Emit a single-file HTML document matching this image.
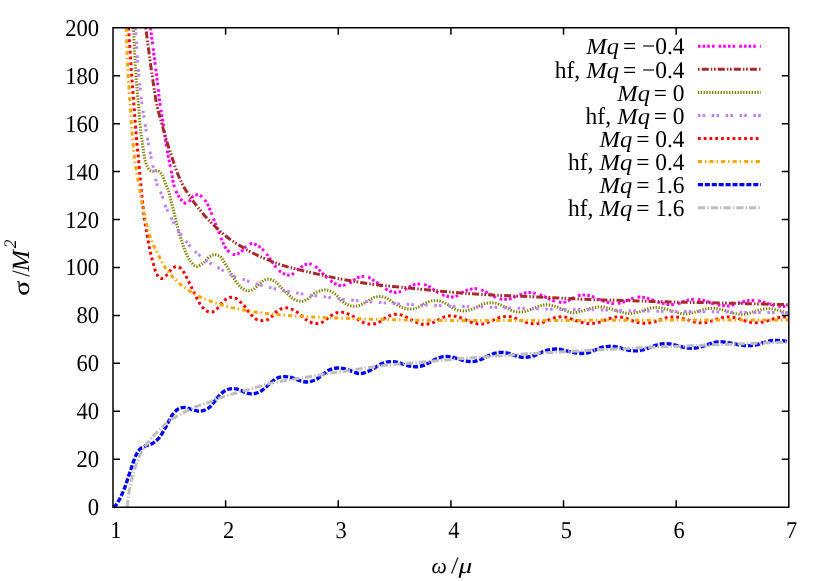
<!DOCTYPE html>
<html><head><meta charset="utf-8"><title>plot</title>
<style>html,body{margin:0;padding:0;background:#fff;overflow:hidden}svg{display:block;will-change:transform}.t,.t text,.t tspan{font-family:"Liberation Serif",serif;text-rendering:geometricPrecision}</style>
</head><body>
<svg width="830" height="581" viewBox="0 0 830 581">
<rect width="830" height="581" fill="#fff"/>
<defs><clipPath id="c"><rect x="111.00" y="27.05" width="679.00" height="482.15"/></clipPath></defs>
<g clip-path="url(#c)" fill="none" stroke-linecap="butt" stroke-linejoin="round">
<path d="M150.5 27.7C152.5 43.7 154.6 59.6 156.6 75.6C157.9 85.9 158.9 96.2 160.4 106.5C161.3 112.2 162.3 117.8 163.2 123.5C164.1 129.4 164.8 135.2 165.7 141.1C166.4 145.9 167.2 150.8 168.1 155.6C169.1 160.9 170.3 166.2 171.4 171.5C172.4 176.5 172.7 181.7 174.3 186.5C175.1 188.9 176.0 191.4 177.2 193.7C178.6 196.3 180.1 199.0 182.3 200.9C183.7 202.1 185.6 204.3 187.0 204.0C188.2 203.7 189.1 201.3 190.2 200.0C191.4 198.6 192.3 196.7 193.9 195.8C195.1 195.1 196.8 194.6 198.2 194.8C199.8 195.0 201.4 196.2 202.7 197.3C204.7 198.9 205.9 201.5 207.2 203.8C209.1 207.1 210.4 210.7 211.8 214.2C213.1 217.4 214.2 220.6 215.4 223.8C216.8 227.5 218.4 231.2 219.9 234.9C220.7 236.9 221.3 238.9 222.2 240.9C223.3 243.4 224.2 246.0 225.8 248.1C227.2 250.0 228.8 252.1 230.8 253.2C231.9 253.8 233.3 254.5 234.5 254.6C236.7 254.8 239.1 253.0 241.0 251.7C243.2 250.2 244.5 247.5 246.7 246.0C248.3 245.0 250.1 243.7 251.8 243.5C253.9 243.3 256.3 244.9 258.3 246.0C260.8 247.4 262.9 249.6 264.8 251.7C267.0 254.1 268.6 257.0 270.6 259.7C272.7 262.6 274.6 265.9 277.1 268.4C278.7 270.0 280.3 271.6 282.2 272.7C283.7 273.6 285.5 274.7 287.2 274.9C288.8 275.1 290.8 274.9 292.3 274.2C294.0 273.5 295.1 271.7 296.6 270.5C298.2 269.2 299.9 268.0 301.7 266.9C303.3 265.9 304.9 264.7 306.7 264.3C307.9 264.0 309.2 263.8 310.4 264.0C311.9 264.2 313.4 265.3 314.7 266.2C316.6 267.4 318.2 269.0 319.8 270.5C321.8 272.3 323.5 274.5 325.5 276.3C327.1 277.8 328.8 279.4 330.6 280.7C332.2 281.9 333.9 283.1 335.7 284.0C336.9 284.6 338.1 285.2 339.3 285.4C340.9 285.7 342.8 285.5 344.4 285.1C345.9 284.8 347.3 284.2 348.7 283.5C350.5 282.6 352.1 281.2 353.8 280.1C355.2 279.2 356.6 278.1 358.1 277.5C359.7 276.9 361.5 276.5 363.2 276.5C364.6 276.5 366.1 276.6 367.5 277.0C369.4 277.5 371.1 278.9 372.9 279.9C374.5 280.9 376.1 281.9 377.6 283.0C379.9 284.6 381.9 286.4 384.2 287.9C385.8 288.9 387.4 290.1 389.2 290.8C391.0 291.6 393.0 292.3 395.0 292.4C396.7 292.5 398.5 292.1 400.1 291.6C401.6 291.2 403.0 290.5 404.4 289.8C405.9 289.0 407.2 288.0 408.7 287.2C410.4 286.3 412.0 285.2 413.8 284.7C415.4 284.2 417.2 284.0 418.9 284.0C420.6 284.0 422.3 284.0 423.9 284.4C425.4 284.8 426.8 285.4 428.2 286.1C430.0 287.0 431.6 288.2 433.3 289.3C434.8 290.3 436.1 291.5 437.6 292.4C439.0 293.2 440.5 293.9 442.0 294.5C443.4 295.1 444.8 295.6 446.3 296.0C448.4 296.6 450.7 297.1 452.9 296.9C454.6 296.7 456.4 296.1 458.0 295.4C459.5 294.7 460.8 293.4 462.3 292.5C463.7 291.7 465.1 291.0 466.6 290.4C468.2 289.8 470.0 289.2 471.7 288.9C472.7 288.7 473.6 288.6 474.6 288.6C475.3 288.6 476.0 288.8 476.7 288.9C478.4 289.2 480.2 289.5 481.8 290.1C483.6 290.7 485.2 291.6 486.9 292.5C488.6 293.4 490.2 294.5 491.9 295.4C493.3 296.2 494.8 297.0 496.3 297.6C497.7 298.2 499.1 298.7 500.6 299.0C502.3 299.3 504.0 299.4 505.7 299.3C507.6 299.2 509.6 298.9 511.4 298.3C513.2 297.8 514.8 296.8 516.5 296.1C517.9 295.5 519.3 294.9 520.8 294.4C522.2 293.9 523.7 293.3 525.2 293.0C526.6 292.7 528.1 292.5 529.5 292.5C531.2 292.5 532.9 292.9 534.6 293.3C536.0 293.6 537.5 294.0 538.9 294.4C540.6 294.9 542.3 295.6 544.0 296.4C545.7 297.2 547.3 298.2 549.0 299.0C550.4 299.7 551.9 300.3 553.4 300.8C555.0 301.3 556.7 301.6 558.4 301.9C560.1 302.2 561.9 302.6 563.5 302.4C565.5 302.2 567.4 301.0 569.3 300.1C570.8 299.3 572.2 298.2 573.7 297.5C575.1 296.8 576.5 296.2 578.0 295.8C579.6 295.4 581.3 295.2 583.0 295.1C585.0 295.0 587.0 295.2 588.9 295.6C590.6 295.9 592.3 296.5 593.9 297.1C595.6 297.7 597.3 298.6 599.0 299.3C600.9 300.1 602.8 300.8 604.8 301.4C606.5 301.9 608.1 302.5 609.8 302.9C611.5 303.3 613.2 303.6 614.9 303.6C616.6 303.6 618.3 303.3 619.9 303.0C621.9 302.6 623.8 301.8 625.7 301.1C627.4 300.5 629.1 299.6 630.8 299.0C632.2 298.5 633.6 298.1 635.1 297.8C636.5 297.5 638.0 297.2 639.5 297.1C641.7 297.0 643.9 297.5 646.0 298.0C647.7 298.4 649.4 298.9 651.0 299.4C652.7 300.0 654.4 300.8 656.1 301.4C657.5 301.9 658.9 302.5 660.4 302.9C662.1 303.4 663.8 303.7 665.5 304.0C667.2 304.3 668.8 304.5 670.5 304.5C672.1 304.5 673.7 304.5 675.3 304.3C676.9 304.1 678.5 303.5 680.0 303.0C681.5 302.5 682.9 301.6 684.4 301.1C686.0 300.5 687.8 300.2 689.5 299.9C691.2 299.6 692.8 299.3 694.5 299.3C696.4 299.3 698.4 299.6 700.3 299.9C702.2 300.2 704.2 300.5 706.1 301.1C707.8 301.6 709.4 302.4 711.1 303.0C712.8 303.5 714.5 304.0 716.2 304.4C717.9 304.8 719.6 305.1 721.3 305.4C723.0 305.6 724.6 305.9 726.3 305.9C728.0 305.9 729.7 305.7 731.4 305.4C733.4 305.0 735.3 304.1 737.2 303.5C738.9 303.0 740.5 302.5 742.2 302.1C743.9 301.6 745.6 301.1 747.3 300.8C748.9 300.5 750.6 300.4 752.3 300.4C754.0 300.4 755.7 300.4 757.4 300.6C759.1 300.8 760.8 301.3 762.5 301.8C764.2 302.3 765.8 303.0 767.5 303.5C769.2 304.1 770.9 304.7 772.6 305.1C774.2 305.5 775.9 305.9 777.6 306.1C779.5 306.3 781.5 306.4 783.4 306.4C785.2 306.4 787.0 306.1 788.8 306.0" stroke="#ff00ff" stroke-width="3" stroke-dasharray="2.7 1.95 2.7 1.95 2.7 1.95 2.7 4.01"/>
<path d="M145.7 27.7C147.9 43.7 149.8 59.7 152.2 75.6C153.8 85.9 154.9 96.3 157.2 106.5C158.5 112.2 160.2 117.8 161.8 123.5C163.4 129.4 164.9 135.3 166.7 141.1C168.2 146.0 169.8 150.8 171.4 155.6C173.2 160.9 174.7 166.3 176.8 171.5C178.9 176.8 181.2 182.2 184.0 187.2C186.1 190.9 188.6 194.5 191.0 198.0C193.7 202.0 196.6 205.8 199.6 209.6C202.4 213.1 205.3 216.5 208.3 219.7C211.1 222.7 214.0 225.6 217.0 228.4C221.1 232.2 225.4 235.9 230.0 239.2C231.5 240.3 233.0 241.3 234.5 242.3C239.2 245.4 244.0 248.3 248.9 251.0C253.6 253.5 258.5 255.8 263.4 258.0C268.1 260.1 272.9 262.0 277.8 263.7C282.6 265.4 287.4 266.8 292.3 268.1C297.1 269.4 301.9 270.5 306.7 271.6C311.5 272.7 316.4 273.8 321.2 274.9C326.5 276.1 331.7 277.4 337.0 278.4C341.2 279.2 345.3 279.9 349.5 280.6C354.3 281.4 359.1 282.3 363.9 283.0C368.7 283.7 373.6 284.4 378.4 285.0C383.2 285.6 388.0 285.9 392.8 286.4C397.6 286.9 402.5 287.4 407.3 287.9C412.1 288.4 416.9 288.8 421.7 289.3C426.5 289.8 431.4 290.3 436.2 290.8C441.5 291.3 446.7 291.8 452.0 292.2C461.0 293.0 469.9 293.7 478.9 294.3C488.5 294.9 498.2 295.3 507.8 295.7C517.4 296.1 527.1 296.5 536.7 296.9C546.8 297.4 556.9 297.9 567.0 298.4C576.0 298.8 584.9 299.4 593.9 299.7C603.5 300.1 613.2 300.1 622.8 300.4C632.4 300.7 642.1 301.1 651.7 301.4C661.1 301.7 670.6 302.0 680.0 302.2C688.0 302.4 695.9 302.4 703.9 302.6C713.5 302.8 723.2 303.1 732.8 303.3C742.4 303.5 752.1 303.8 761.7 304.0C770.7 304.2 779.8 304.5 788.8 304.7" stroke="#a52a2a" stroke-width="3" stroke-dasharray="1.7 2.1 7 2.2 1.4 1.66"/>
<path d="M133.4 27.7C134.3 43.7 134.8 59.7 136.0 75.6C136.7 85.4 137.7 95.2 138.5 105.0C139.0 111.2 139.3 117.3 139.9 123.5C140.3 127.0 140.7 130.4 141.1 133.9C141.4 136.3 141.8 138.7 142.1 141.1C142.6 144.5 143.0 147.9 143.5 151.3C143.9 153.7 144.1 156.1 144.7 158.5C145.3 160.9 145.8 163.5 146.9 165.7C147.7 167.3 148.4 169.2 149.8 170.1C150.8 170.8 152.2 171.1 153.4 171.2C154.8 171.4 156.4 170.4 157.7 170.8C159.1 171.2 160.3 172.6 161.3 173.7C162.8 175.5 163.3 178.0 164.2 180.2C165.0 182.1 165.6 184.1 166.4 186.0C166.8 187.0 167.4 187.9 167.8 188.9C169.3 192.3 169.8 196.0 170.7 199.5C172.0 204.3 173.1 209.1 174.3 213.9C175.5 218.7 176.6 223.6 177.9 228.4C179.2 233.2 180.7 238.1 182.3 242.8C183.6 246.7 184.8 250.7 186.6 254.4C187.9 257.0 189.1 259.7 191.0 261.8C192.6 263.6 194.6 266.4 196.7 266.5C198.5 266.6 200.7 264.8 202.5 263.6C205.3 261.8 206.9 258.3 209.8 256.6C211.1 255.8 212.6 254.9 214.1 254.7C216.0 254.5 218.3 255.4 219.9 256.5C221.9 257.8 222.9 260.5 224.3 262.5C226.4 265.6 228.2 268.8 230.1 272.0C232.0 275.1 233.7 278.5 235.9 281.4C237.7 283.7 239.4 286.2 241.7 287.9C243.4 289.1 245.5 290.6 247.5 290.8C249.4 291.0 251.6 290.2 253.3 289.3C255.2 288.3 256.6 286.4 258.3 285.0C260.0 283.6 261.5 281.7 263.4 280.7C265.1 279.8 267.3 279.1 269.2 279.2C271.1 279.3 273.2 280.4 274.9 281.4C277.2 282.8 278.8 285.3 280.7 287.2C282.6 289.1 284.5 291.1 286.5 292.9C288.4 294.7 290.2 296.6 292.3 298.0C294.1 299.2 296.0 300.4 298.1 300.9C299.5 301.2 301.0 301.4 302.4 301.2C304.4 300.9 306.4 299.8 308.2 298.7C310.4 297.4 311.9 295.1 314.0 293.7C315.8 292.5 317.8 291.5 319.8 290.8C321.6 290.2 323.6 289.7 325.5 289.8C327.5 289.9 329.5 290.6 331.3 291.5C333.4 292.5 335.3 294.2 337.1 295.8C338.4 297.0 339.5 298.7 340.8 299.9C342.6 301.5 344.5 303.1 346.6 304.2C348.4 305.1 350.3 305.8 352.3 306.1C353.7 306.3 355.3 306.3 356.7 306.1C358.7 305.8 360.7 305.0 362.5 304.2C364.6 303.3 366.3 301.8 368.3 300.6C370.2 299.5 372.0 298.1 374.0 297.4C375.8 296.8 377.9 296.6 379.8 296.6C381.7 296.6 383.8 297.0 385.6 297.7C387.7 298.5 389.5 300.1 391.4 301.3C393.3 302.5 395.2 303.8 397.2 304.9C399.1 305.9 400.9 307.1 402.9 307.8C404.7 308.4 406.7 308.9 408.7 309.0C410.6 309.1 412.6 309.0 414.5 308.6C416.5 308.1 418.4 307.0 420.3 306.1C422.3 305.1 424.1 303.7 426.1 302.8C428.0 302.0 429.9 301.2 431.9 300.9C433.3 300.7 434.8 300.5 436.2 300.6C438.2 300.7 440.1 301.2 442.0 301.8C444.0 302.5 445.9 303.6 447.8 304.6C450.1 305.9 451.9 307.9 454.3 308.9C455.7 309.5 457.2 310.0 458.7 310.3C460.3 310.7 462.0 310.9 463.7 310.9C465.4 310.9 467.1 310.6 468.8 310.2C470.5 309.8 472.2 309.1 473.9 308.4C475.6 307.7 477.2 306.8 478.9 306.0C480.6 305.2 482.2 304.3 484.0 303.8C485.4 303.4 486.8 303.1 488.3 302.9C489.5 302.8 490.7 302.7 491.9 302.8C493.4 302.9 494.9 303.1 496.3 303.4C498.0 303.8 499.7 304.6 501.3 305.3C503.0 306.0 504.7 306.9 506.4 307.7C508.1 308.5 509.7 309.6 511.4 310.3C513.0 311.0 514.8 311.5 516.5 311.8C517.9 312.0 519.4 312.1 520.8 312.0C522.5 311.9 524.2 311.7 525.9 311.3C527.6 310.9 529.3 310.1 531.0 309.4C532.7 308.8 534.3 308.0 536.0 307.4C537.7 306.7 539.3 305.9 541.1 305.5C542.7 305.1 544.4 304.8 546.1 304.8C547.8 304.8 549.5 305.0 551.2 305.3C553.2 305.7 555.1 306.3 557.0 307.0C558.7 307.6 560.3 308.5 562.0 309.2C564.1 310.1 566.3 311.1 568.5 311.8C569.7 312.2 571.0 312.6 572.2 312.7C574.1 312.9 576.1 312.4 578.0 312.0C580.0 311.6 581.9 311.0 583.8 310.5C585.7 309.9 587.6 309.2 589.6 308.7C591.5 308.2 593.4 307.7 595.4 307.4C597.1 307.1 598.7 306.9 600.4 306.9C602.3 306.9 604.3 307.2 606.2 307.6C607.9 308.0 609.6 308.6 611.3 309.1C613.2 309.7 615.1 310.4 617.0 311.0C618.9 311.5 620.9 312.0 622.8 312.4C624.7 312.8 626.7 313.3 628.6 313.4C630.5 313.5 632.5 313.3 634.4 313.0C636.4 312.7 638.3 312.2 640.2 311.6C642.2 311.0 644.0 310.1 646.0 309.5C647.6 309.0 649.3 308.4 651.0 308.1C652.7 307.8 654.4 307.6 656.1 307.6C658.0 307.6 660.0 307.8 661.9 308.1C663.8 308.4 665.7 309.0 667.6 309.5C669.5 310.0 671.5 310.7 673.4 311.3C675.3 311.9 677.2 312.6 679.2 313.0C681.1 313.4 683.1 313.8 685.1 313.8C687.0 313.8 689.0 313.5 690.9 313.1C692.9 312.7 694.8 312.1 696.7 311.6C698.6 311.0 700.5 310.3 702.5 309.8C704.4 309.3 706.3 308.8 708.3 308.6C710.0 308.4 711.6 308.3 713.3 308.3C715.2 308.3 717.2 308.6 719.1 309.0C721.1 309.4 723.0 309.9 724.9 310.5C726.9 311.1 728.7 311.8 730.7 312.4C732.6 312.9 734.5 313.5 736.4 313.8C738.1 314.1 739.8 314.4 741.5 314.4C743.4 314.4 745.4 314.1 747.3 313.7C749.3 313.3 751.2 312.5 753.1 311.9C755.0 311.3 756.9 310.7 758.9 310.2C760.8 309.7 762.7 309.2 764.6 309.0C766.3 308.8 768.0 308.6 769.7 308.7C771.6 308.8 773.6 309.1 775.5 309.5C777.5 309.9 779.4 310.6 781.3 311.2C783.8 311.9 786.3 312.6 788.8 313.3" stroke="#808000" stroke-width="3" stroke-dasharray="1.35 1.48"/>
<path d="M135.3 27.7C136.5 43.7 137.4 59.7 138.9 75.6C139.9 85.9 140.8 96.2 142.3 106.5C143.1 112.2 144.1 117.8 145.0 123.5C145.9 129.4 146.8 135.3 147.9 141.1C148.8 145.9 149.8 150.8 150.8 155.6C151.9 160.9 152.9 166.2 154.1 171.5C155.4 177.1 156.0 183.0 158.4 188.1C159.1 189.5 159.9 190.8 160.6 192.2C162.9 196.8 163.7 202.0 165.7 206.7C167.6 211.1 169.9 215.4 172.2 219.7C174.3 223.6 176.3 227.6 178.7 231.3C181.3 235.3 184.2 239.1 187.3 242.8C190.5 246.6 193.8 250.4 197.5 253.7C201.1 256.9 205.0 259.7 209.0 262.3C212.5 264.6 216.3 266.7 220.0 268.8C223.5 270.8 226.9 273.0 230.5 274.7C235.0 276.8 239.9 278.2 244.6 279.9C248.9 281.4 253.2 283.0 257.6 284.3C262.1 285.7 266.7 286.8 271.3 287.9C275.6 288.9 279.9 289.9 284.3 290.8C288.9 291.7 293.5 292.4 298.1 293.2C302.7 294.0 307.2 294.8 311.8 295.4C316.4 296.0 320.9 296.4 325.5 297.0C329.8 297.5 334.2 298.2 338.5 298.7C343.4 299.3 348.2 299.8 353.1 300.3C357.7 300.8 362.2 301.2 366.8 301.6C371.4 302.0 375.9 302.2 380.5 302.5C385.1 302.8 389.7 303.2 394.3 303.5C399.8 303.9 405.4 304.2 410.9 304.5C416.4 304.8 422.0 305.0 427.5 305.2C432.1 305.4 436.7 305.5 441.3 305.7C445.1 305.9 449.0 306.1 452.8 306.3C458.1 306.5 463.5 306.6 468.8 306.7C473.4 306.8 477.9 307.0 482.5 307.1C487.1 307.2 491.7 307.2 496.3 307.4C500.9 307.5 505.4 307.8 510.0 308.0C514.6 308.2 519.1 308.3 523.7 308.4C528.3 308.6 532.9 308.8 537.5 308.9C542.1 309.0 546.6 309.1 551.2 309.2C556.0 309.3 560.9 309.4 565.7 309.5C570.8 309.6 575.8 309.5 580.9 309.6C585.7 309.6 590.6 309.7 595.4 309.8C600.0 309.9 604.5 310.0 609.1 310.1C613.7 310.2 618.2 310.4 622.8 310.5C627.4 310.6 632.0 310.7 636.6 310.8C641.2 310.9 645.7 310.9 650.3 311.0C655.1 311.1 660.0 311.2 664.8 311.3C669.4 311.4 673.9 311.4 678.5 311.5C682.9 311.5 687.2 311.6 691.6 311.6C696.2 311.6 700.8 311.6 705.4 311.7C710.0 311.7 714.5 311.8 719.1 311.9C723.7 312.0 728.2 312.1 732.8 312.2C737.6 312.3 742.5 312.3 747.3 312.4C752.1 312.4 756.9 312.5 761.7 312.5C766.3 312.5 770.9 312.5 775.5 312.6C779.9 312.6 784.4 312.7 788.8 312.8" stroke="#bf80ff" stroke-width="3" stroke-dasharray="2.6 2.1 2.6 6.58"/>
<path d="M128.5 27.7C129.6 43.7 130.6 59.6 131.7 75.6C132.4 85.4 133.2 95.2 133.9 105.0C134.4 111.2 134.8 117.3 135.3 123.5C135.8 129.4 136.2 135.2 136.7 141.1C137.1 145.9 137.7 150.8 138.2 155.6C138.7 160.9 139.1 166.2 139.6 171.5C140.1 177.0 140.6 182.6 141.1 188.1C141.7 194.3 142.3 200.5 143.0 206.7C143.5 211.5 144.0 216.3 144.7 221.1C145.4 226.0 146.5 230.8 147.3 235.6C147.9 239.0 148.4 242.3 149.0 245.7C149.7 249.4 150.5 253.0 151.4 256.6C152.0 259.0 152.7 261.4 153.4 263.8C154.3 266.9 154.7 270.4 156.3 273.2C157.4 275.1 158.8 278.2 160.6 278.5C162.1 278.7 164.3 277.2 165.7 276.1C167.2 275.0 168.0 273.1 169.3 271.7C170.7 270.2 171.8 268.2 173.6 267.4C174.5 267.0 175.5 266.7 176.5 266.7C177.5 266.7 178.5 267.0 179.4 267.4C180.9 268.1 182.0 269.7 183.0 271.0C184.2 272.5 185.0 274.4 185.9 276.1C186.9 278.0 187.8 280.0 188.8 281.9C189.8 283.8 190.7 285.7 191.7 287.6C192.9 290.0 194.1 292.5 195.3 294.9C196.5 297.3 197.5 299.8 198.9 302.1C200.0 303.9 201.1 305.7 202.5 307.2C203.8 308.7 205.2 310.4 206.9 311.2C208.4 311.9 210.4 312.5 211.9 312.2C213.8 311.9 215.4 309.9 217.0 308.6C219.7 306.3 221.4 302.7 224.2 300.6C225.8 299.4 227.5 297.9 229.4 297.5C231.2 297.1 233.4 297.5 235.2 298.2C237.1 298.9 238.6 300.5 240.2 301.8C241.8 303.1 243.3 304.5 244.6 306.1C245.9 307.7 246.9 309.6 248.2 311.2C249.3 312.7 250.5 314.2 251.8 315.5C253.1 316.8 254.5 318.3 256.1 319.2C257.6 320.0 259.5 320.5 261.2 320.6C263.1 320.8 265.2 320.6 267.0 319.9C268.9 319.2 270.4 317.6 272.0 316.3C273.8 314.8 275.2 312.6 277.1 311.2C278.8 310.0 280.8 308.8 282.9 308.3C284.5 307.9 286.4 307.7 288.0 307.9C290.0 308.2 291.9 309.3 293.7 310.2C295.5 311.1 297.2 312.2 298.8 313.4C300.3 314.5 301.7 315.8 303.1 317.0C304.6 318.2 305.9 319.6 307.5 320.6C309.3 321.7 311.3 322.7 313.3 323.2C314.9 323.6 316.7 323.7 318.3 323.5C320.3 323.2 322.3 322.3 324.1 321.3C325.7 320.4 326.9 318.8 328.4 317.7C330.0 316.4 331.7 315.0 333.5 314.1C335.3 313.2 337.3 312.5 339.3 312.3C340.0 312.2 340.8 312.2 341.5 312.2C342.5 312.2 343.5 312.4 344.4 312.6C346.2 313.0 347.8 314.0 349.5 314.8C351.2 315.6 352.9 316.3 354.5 317.2C356.3 318.2 357.8 319.6 359.6 320.6C361.2 321.5 362.9 322.4 364.6 323.0C366.5 323.6 368.5 324.1 370.4 324.2C372.3 324.3 374.4 324.0 376.2 323.4C378.0 322.8 379.7 321.8 381.3 320.8C383.1 319.7 384.5 318.2 386.3 317.2C387.9 316.3 389.6 315.6 391.4 315.1C393.3 314.6 395.3 314.2 397.2 314.3C398.9 314.4 400.6 314.8 402.2 315.3C404.2 315.9 406.1 316.9 408.0 317.9C409.7 318.8 411.4 319.9 413.1 320.8C414.7 321.6 416.4 322.4 418.1 323.0C420.0 323.7 421.9 324.4 423.9 324.5C425.8 324.6 427.8 324.2 429.7 323.7C431.7 323.2 433.6 322.5 435.5 321.6C437.2 320.8 438.8 319.6 440.5 318.7C442.4 317.8 444.3 316.7 446.3 316.2C447.9 315.8 449.7 315.7 451.4 315.7C453.3 315.8 455.3 316.2 457.2 316.7C459.2 317.2 461.1 317.8 463.0 318.6C464.7 319.3 466.4 320.3 468.1 321.0C469.7 321.7 471.4 322.4 473.1 322.9C475.0 323.4 477.0 323.9 478.9 324.0C480.8 324.1 482.8 324.0 484.7 323.6C486.7 323.2 488.6 322.2 490.5 321.4C492.2 320.7 493.8 319.7 495.5 319.0C497.2 318.3 498.9 317.5 500.6 317.1C502.5 316.6 504.5 316.4 506.4 316.4C508.3 316.4 510.3 316.6 512.2 317.1C513.9 317.5 515.5 318.3 517.2 319.0C519.1 319.8 521.0 320.7 523.0 321.4C524.9 322.1 526.8 322.8 528.8 323.2C530.7 323.6 532.7 323.9 534.6 323.9C536.3 323.9 538.0 323.6 539.6 323.3C541.6 322.9 543.5 322.1 545.4 321.4C547.4 320.7 549.2 319.7 551.2 319.0C552.9 318.4 554.6 317.8 556.3 317.4C558.5 316.9 560.8 316.7 563.0 316.8C564.7 316.9 566.4 317.2 568.0 317.6C569.4 318.0 570.8 318.7 572.2 319.2C574.1 319.9 576.0 320.8 578.0 321.4C579.7 321.9 581.4 322.4 583.1 322.8C584.7 323.2 586.4 323.5 588.1 323.6C590.0 323.7 592.0 323.5 593.9 323.3C595.9 323.1 597.8 322.7 599.7 322.1C601.4 321.6 603.1 320.8 604.8 320.2C606.7 319.5 608.6 318.8 610.5 318.2C612.2 317.7 613.9 317.2 615.6 317.0C617.5 316.8 619.5 317.0 621.4 317.3C623.4 317.6 625.3 318.2 627.2 318.8C629.2 319.4 631.0 320.3 633.0 321.0C634.6 321.6 636.3 322.1 638.0 322.5C639.9 322.9 641.9 323.3 643.8 323.3C645.7 323.3 647.7 323.1 649.6 322.8C651.6 322.5 653.5 322.0 655.4 321.4C657.1 320.9 658.7 320.2 660.4 319.6C662.3 319.0 664.2 318.2 666.2 317.8C668.1 317.4 670.1 317.1 672.0 317.0C673.9 316.9 675.9 317.0 677.8 317.3C679.7 317.6 681.6 318.3 683.5 318.8C685.0 319.2 686.5 319.5 688.0 319.9C690.0 320.4 691.8 321.3 693.8 321.8C695.7 322.3 697.7 322.7 699.6 322.8C701.5 322.9 703.5 322.7 705.4 322.5C707.3 322.3 709.2 321.8 711.1 321.3C712.8 320.8 714.5 320.0 716.2 319.4C718.1 318.8 720.0 318.1 722.0 317.7C723.9 317.3 725.9 317.0 727.8 317.0C729.7 317.0 731.7 317.1 733.6 317.4C735.5 317.7 737.4 318.3 739.3 318.9C741.3 319.5 743.1 320.3 745.1 320.9C747.0 321.5 748.9 322.0 750.9 322.3C752.8 322.6 754.8 322.8 756.7 322.8C758.6 322.8 760.6 322.4 762.5 322.0C764.5 321.6 766.4 321.1 768.3 320.6C770.2 320.0 772.1 319.3 774.0 318.7C775.7 318.2 777.4 317.7 779.1 317.4C781.0 317.1 783.0 317.0 784.9 317.0C786.2 317.0 787.5 317.1 788.8 317.2" stroke="#ff0000" stroke-width="3" stroke-dasharray="2.8 2.98"/>
<path d="M126.2 27.7C126.8 43.7 127.2 59.7 128.1 75.6C128.7 85.4 129.6 95.2 130.2 105.0C130.6 111.2 130.9 117.3 131.3 123.5C131.7 129.4 132.2 135.2 132.8 141.1C133.3 145.9 133.7 150.8 134.3 155.6C134.9 160.9 135.6 166.2 136.5 171.5C137.4 177.1 138.6 182.6 139.6 188.1C140.7 194.3 141.3 200.6 142.5 206.7C143.5 211.5 144.7 216.3 145.9 221.1C147.1 226.0 148.2 230.9 149.8 235.6C150.9 239.0 152.2 242.4 153.7 245.7C155.3 249.4 157.3 252.9 159.2 256.5C160.8 259.7 162.3 263.0 164.2 266.0C166.3 269.3 168.8 272.4 171.4 275.4C173.9 278.3 176.5 281.2 179.4 283.7C182.3 286.2 185.6 288.4 188.8 290.5C192.1 292.6 195.4 294.6 198.9 296.3C202.2 297.9 205.6 299.4 209.0 300.7C212.8 302.2 216.7 303.4 220.6 304.6C224.2 305.7 227.9 306.7 231.6 307.6C235.2 308.4 238.8 309.1 242.4 309.8C246.3 310.5 250.1 311.3 254.0 311.9C257.8 312.5 261.7 313.0 265.5 313.4C269.4 313.8 273.2 314.1 277.1 314.5C281.0 314.8 284.8 315.2 288.7 315.5C292.5 315.8 296.4 316.1 300.2 316.3C304.1 316.6 307.9 316.8 311.8 317.0C315.7 317.2 319.5 317.3 323.4 317.5C327.3 317.7 331.1 317.9 335.0 318.0C339.8 318.2 344.7 318.2 349.5 318.4C355.8 318.6 362.0 318.9 368.3 319.1C376.5 319.4 384.6 319.5 392.8 319.7C399.6 319.8 406.3 320.0 413.1 320.1C420.8 320.2 428.5 320.3 436.2 320.4C442.5 320.5 448.7 320.5 455.0 320.5C470.0 320.6 485.0 320.5 500.0 320.5C523.3 320.5 546.7 320.5 570.0 320.4C590.0 320.4 610.0 320.3 630.0 320.2C646.7 320.2 663.3 320.1 680.0 320.1C700.0 320.1 720.0 320.0 740.0 320.0C756.3 320.0 772.5 319.9 788.8 319.9" stroke="#ffa500" stroke-width="3" stroke-dasharray="4.1 2.9 1.4 3.17"/>
<path d="M113.3 507.2C113.6 507.0 114.0 506.8 114.3 506.6C116.3 505.3 117.4 502.8 118.7 500.8C120.1 498.5 121.2 496.0 122.3 493.6C123.4 491.2 124.3 488.8 125.2 486.4C126.3 483.5 127.1 480.6 128.1 477.7C129.1 474.8 130.0 471.9 131.0 469.0C132.0 466.1 132.8 463.2 133.9 460.4C134.8 458.2 135.5 455.9 136.7 453.9C137.7 452.1 138.9 450.2 140.4 448.8C141.8 447.5 143.7 446.7 145.4 445.9C147.5 444.9 149.9 444.7 151.9 443.7C154.0 442.6 156.0 441.1 157.7 439.4C159.4 437.7 160.7 435.6 162.0 433.6C164.1 430.4 165.7 426.9 167.6 423.6C169.5 420.2 170.9 416.4 173.4 413.5C174.9 411.8 176.6 409.8 178.6 408.8C180.2 408.0 182.2 407.4 184.0 407.4C186.2 407.3 188.5 408.6 190.7 409.2C193.6 409.9 196.5 411.4 199.4 411.3C202.3 411.2 205.6 410.0 208.1 408.4C211.0 406.6 212.9 403.1 215.3 400.5C217.7 397.8 219.6 394.6 222.5 392.5C224.7 390.9 227.2 389.4 229.8 388.9C231.2 388.6 232.7 388.5 234.1 388.6C236.6 388.7 239.0 389.7 241.3 390.6C242.9 391.2 244.4 392.4 246.0 392.9C248.0 393.6 250.2 394.0 252.3 393.9C254.5 393.8 256.8 393.1 258.8 392.2C261.5 391.0 263.7 388.9 266.0 387.1C268.6 385.1 270.6 382.4 273.3 380.6C275.1 379.4 277.0 378.1 279.0 377.4C280.8 376.8 282.9 376.6 284.8 376.6C287.2 376.6 289.7 377.1 292.0 377.7C295.0 378.4 297.7 380.2 300.7 380.9C302.8 381.4 305.1 382.0 307.2 382.0C309.9 381.9 312.7 381.0 315.2 379.9C317.8 378.7 320.0 376.5 322.4 374.8C324.8 373.1 327.0 370.9 329.6 369.8C331.9 368.8 334.4 368.2 336.9 368.0C339.3 367.8 341.7 368.2 344.1 368.7C347.1 369.3 349.9 370.7 352.8 371.6C355.0 372.3 357.1 373.4 359.3 373.5C361.7 373.6 364.3 372.8 366.6 372.0C369.1 371.1 371.4 369.7 373.8 368.4C376.3 367.1 378.5 365.2 381.0 364.1C383.1 363.2 385.3 362.3 387.5 361.9C388.9 361.7 390.4 361.6 391.9 361.6C394.1 361.6 396.3 362.1 398.4 362.6C400.9 363.2 403.2 364.4 405.6 365.1C408.0 365.7 410.4 366.4 412.8 366.6C414.0 366.7 415.2 366.8 416.4 366.7C418.6 366.6 420.8 366.1 422.9 365.5C425.4 364.7 427.8 363.4 430.2 362.2C432.6 361.0 434.9 359.3 437.4 358.3C439.3 357.6 441.2 356.9 443.2 356.6C444.6 356.4 446.1 356.3 447.5 356.4C450.0 356.5 452.4 357.3 454.8 357.9C457.2 358.5 459.6 359.6 462.0 360.2C464.4 360.8 466.8 361.3 469.2 361.5C470.5 361.6 471.7 361.7 473.0 361.6C475.9 361.4 478.8 360.3 481.6 359.2C484.1 358.2 486.3 356.6 488.8 355.5C490.9 354.6 493.1 353.6 495.3 353.1C497.2 352.7 499.2 352.4 501.1 352.4C503.3 352.4 505.5 352.7 507.6 353.1C510.1 353.6 512.4 354.8 514.8 355.5C516.7 356.1 518.6 356.7 520.6 357.0C522.3 357.3 524.0 357.4 525.7 357.3C527.9 357.2 530.1 356.9 532.2 356.3C534.7 355.6 537.0 354.4 539.4 353.4C541.8 352.4 544.1 351.2 546.6 350.5C548.5 350.0 550.4 349.5 552.4 349.3C553.8 349.1 555.3 349.0 556.7 349.0C559.2 349.0 561.6 349.7 564.0 350.2C566.4 350.7 568.8 351.4 571.2 351.9C573.1 352.3 575.0 352.9 577.0 353.1C578.9 353.3 580.9 353.5 582.8 353.4C584.5 353.3 586.2 353.2 587.9 352.8C589.9 352.3 591.8 351.4 593.7 350.6C596.1 349.7 598.4 348.4 600.9 347.7C602.8 347.2 604.7 346.8 606.7 346.6C608.4 346.4 610.0 346.2 611.7 346.3C613.9 346.4 616.1 346.9 618.3 347.4C620.7 347.9 623.1 348.8 625.5 349.4C627.4 349.9 629.3 350.4 631.3 350.6C633.0 350.8 634.6 351.0 636.3 350.9C638.5 350.8 640.7 350.4 642.8 349.9C645.3 349.3 647.7 348.3 650.1 347.4C652.5 346.6 654.8 345.4 657.3 344.8C659.2 344.3 661.2 344.0 663.1 343.8C664.5 343.7 666.0 343.6 667.4 343.7C669.8 343.8 672.2 344.3 674.6 344.8C677.1 345.3 679.5 346.4 682.0 346.9C685.0 347.5 688.0 348.2 691.0 348.2C692.9 348.2 694.8 348.1 696.7 347.8C699.1 347.4 701.5 346.6 703.9 345.9C706.3 345.2 708.7 344.1 711.1 343.4C713.0 342.9 714.9 342.2 716.9 342.0C718.3 341.8 719.6 341.8 721.0 341.8C724.0 341.8 727.0 342.5 729.9 343.0C732.3 343.4 734.8 344.1 737.2 344.5C739.6 344.9 742.0 345.3 744.4 345.5C746.3 345.6 748.3 345.7 750.2 345.6C752.1 345.5 754.1 345.3 756.0 344.9C758.5 344.4 760.8 343.4 763.2 342.7C765.6 342.0 768.0 341.2 770.4 340.8C772.3 340.5 774.3 340.4 776.2 340.4C778.1 340.4 780.1 340.4 782.0 340.6C784.3 340.8 786.5 341.4 788.8 341.8" stroke="#0000ff" stroke-width="3.4" stroke-dasharray="5.05 1.87"/>
<path d="M127.3 507.2C127.6 504.1 127.7 501.0 128.1 497.9C128.5 495.0 129.0 492.2 129.5 489.3C130.1 485.9 130.8 482.5 131.7 479.2C132.4 476.7 133.2 474.3 133.9 471.9C134.6 469.5 135.2 467.1 136.0 464.7C136.8 462.3 137.8 459.9 138.9 457.5C140.0 455.0 141.1 452.5 142.5 450.2C144.0 447.7 145.8 445.3 147.6 443.0C149.5 440.5 151.3 438.1 153.4 435.8C155.0 434.0 156.8 432.4 158.6 430.7C162.5 427.0 166.2 423.1 170.5 420.0C174.1 417.5 178.1 415.6 182.0 413.5C186.3 411.2 190.6 408.9 195.1 407.0C199.3 405.3 203.8 404.2 208.1 402.6C212.0 401.1 215.7 399.3 219.6 397.9C223.4 396.6 227.3 395.5 231.2 394.4C235.1 393.3 238.9 392.2 242.8 391.1C246.7 390.0 250.6 388.9 254.5 387.8C259.3 386.5 264.1 385.0 268.9 383.8C273.7 382.7 278.5 381.8 283.4 380.9C288.2 380.0 293.0 379.4 297.8 378.6C302.6 377.8 307.5 377.0 312.3 376.2C317.1 375.4 321.9 374.4 326.7 373.6C331.5 372.8 336.4 372.3 341.2 371.6C345.8 371.0 350.4 370.4 355.0 369.7C359.8 369.0 364.7 368.2 369.5 367.5C374.3 366.8 379.1 366.1 383.9 365.5C388.7 364.9 393.6 364.5 398.4 364.1C403.2 363.7 408.0 363.4 412.8 363.0C417.6 362.6 422.5 362.2 427.3 361.7C432.1 361.3 436.9 360.7 441.7 360.3C446.5 359.8 451.4 359.4 456.2 359.0C460.8 358.6 465.4 358.4 470.0 358.1C477.2 357.6 484.5 356.9 491.7 356.3C498.9 355.8 506.2 355.3 513.4 354.8C520.6 354.3 527.9 353.8 535.1 353.4C542.3 353.0 549.5 352.6 556.7 352.2C563.9 351.8 571.2 351.3 578.4 350.9C582.3 350.7 586.1 350.4 590.0 350.2C595.6 349.9 601.1 349.7 606.7 349.4C613.9 349.1 621.2 348.7 628.4 348.4C635.6 348.0 642.9 347.6 650.1 347.3C657.3 347.0 664.5 346.8 671.7 346.5C677.6 346.3 683.6 346.0 689.5 345.8C696.7 345.5 703.9 345.2 711.1 344.9C718.3 344.6 725.6 344.4 732.8 344.1C740.0 343.8 747.3 343.6 754.5 343.3C761.7 343.0 769.0 342.7 776.2 342.4C780.4 342.2 784.6 342.1 788.8 341.9" stroke="#bebebe" stroke-width="3" stroke-dasharray="7.3 2.1 1.4 1.97"/>
</g>
<path d="M113.00 27.75H788.80V507.20H113.00ZM225.63 507.20v-7.00M225.63 27.75v7.00M338.27 507.20v-7.00M338.27 27.75v7.00M450.90 507.20v-7.00M450.90 27.75v7.00M563.53 507.20v-7.00M563.53 27.75v7.00M676.17 507.20v-7.00M676.17 27.75v7.00M113.00 459.25h7.00M788.80 459.25h-7.00M113.00 411.31h7.00M788.80 411.31h-7.00M113.00 363.37h7.00M788.80 363.37h-7.00M113.00 315.42h7.00M788.80 315.42h-7.00M113.00 267.48h7.00M788.80 267.48h-7.00M113.00 219.53h7.00M788.80 219.53h-7.00M113.00 171.59h7.00M788.80 171.59h-7.00M113.00 123.64h7.00M788.80 123.64h-7.00M113.00 75.69h7.00M788.80 75.69h-7.00" fill="none" stroke="#000" stroke-width="1.5" stroke-linejoin="miter"/>
<g class="t" font-size="23.40" fill="#000">
<text transform="translate(99.15,515.20) scale(0.967,1.03)" text-anchor="end">0</text>
<text transform="translate(99.15,467.25) scale(0.967,1.03)" text-anchor="end">20</text>
<text transform="translate(99.15,419.31) scale(0.967,1.03)" text-anchor="end">40</text>
<text transform="translate(99.15,371.37) scale(0.967,1.03)" text-anchor="end">60</text>
<text transform="translate(99.15,323.42) scale(0.967,1.03)" text-anchor="end">80</text>
<text transform="translate(99.15,275.48) scale(0.967,1.03)" text-anchor="end">100</text>
<text transform="translate(99.15,227.53) scale(0.967,1.03)" text-anchor="end">120</text>
<text transform="translate(99.15,179.59) scale(0.967,1.03)" text-anchor="end">140</text>
<text transform="translate(99.15,131.64) scale(0.967,1.03)" text-anchor="end">160</text>
<text transform="translate(99.15,83.69) scale(0.967,1.03)" text-anchor="end">180</text>
<text transform="translate(99.15,35.75) scale(0.967,1.03)" text-anchor="end">200</text>
<text transform="translate(115.90,537.9) scale(0.96,1.03)" text-anchor="middle">1</text>
<text transform="translate(228.53,537.9) scale(0.96,1.03)" text-anchor="middle">2</text>
<text transform="translate(341.17,537.9) scale(0.96,1.03)" text-anchor="middle">3</text>
<text transform="translate(453.80,537.9) scale(0.96,1.03)" text-anchor="middle">4</text>
<text transform="translate(566.43,537.9) scale(0.96,1.03)" text-anchor="middle">5</text>
<text transform="translate(679.07,537.9) scale(0.96,1.03)" text-anchor="middle">6</text>
<text transform="translate(791.70,537.9) scale(0.96,1.03)" text-anchor="middle">7</text>
<text transform="translate(431.6,572.6) scale(0.925,0.94)" font-style="italic">ω</text>
<text transform="translate(452.0,572.6) scale(0.77,1)" font-style="italic" stroke="#000" stroke-width="0.3">/</text>
<text transform="translate(458.4,572.6) scale(1.17,0.94)" font-style="italic">μ</text>
<g transform="translate(28.5,294.65) rotate(-90)"><text transform="translate(-1.0,0) scale(1.18,0.96)" stroke="#000" stroke-width="0.2">σ</text><text transform="translate(18.95,0) scale(0.6,1.05)" font-style="italic" stroke="#000" stroke-width="0.4">/</text><text transform="translate(23.45,0) scale(1.09,1.06)" font-style="italic">M</text><text transform="translate(46.4,-13.0)" font-size="17.5" font-style="italic">2</text></g>
<text transform="translate(684.6,54.45) scale(1.003,1.03)" text-anchor="end">= −0.4</text>
<text transform="translate(619.12,54.45) scale(1.050,0.985)" text-anchor="end" font-style="italic">Mq</text>
<text transform="translate(684.6,77.51) scale(1.003,1.03)" text-anchor="end">= −0.4</text>
<text transform="translate(619.12,77.51) scale(1.050,0.985)" text-anchor="end" font-style="italic">Mq</text>
<text transform="translate(580.17,77.51) scale(1.003,1.03)" text-anchor="end">hf,</text>
<text transform="translate(684.6,100.57) scale(1.003,1.03)" text-anchor="end">= 0</text>
<text transform="translate(649.96,100.57) scale(1.050,0.985)" text-anchor="end" font-style="italic">Mq</text>
<text transform="translate(684.6,123.63) scale(1.003,1.03)" text-anchor="end">= 0</text>
<text transform="translate(649.96,123.63) scale(1.050,0.985)" text-anchor="end" font-style="italic">Mq</text>
<text transform="translate(611.01,123.63) scale(1.003,1.03)" text-anchor="end">hf,</text>
<text transform="translate(684.6,146.69) scale(1.003,1.03)" text-anchor="end">= 0.4</text>
<text transform="translate(632.36,146.69) scale(1.050,0.985)" text-anchor="end" font-style="italic">Mq</text>
<text transform="translate(684.6,169.75) scale(1.003,1.03)" text-anchor="end">= 0.4</text>
<text transform="translate(632.36,169.75) scale(1.050,0.985)" text-anchor="end" font-style="italic">Mq</text>
<text transform="translate(593.41,169.75) scale(1.003,1.03)" text-anchor="end">hf,</text>
<text transform="translate(684.6,192.81) scale(1.003,1.03)" text-anchor="end">= 1.6</text>
<text transform="translate(632.36,192.81) scale(1.050,0.985)" text-anchor="end" font-style="italic">Mq</text>
<text transform="translate(684.6,215.87) scale(1.003,1.03)" text-anchor="end">= 1.6</text>
<text transform="translate(632.36,215.87) scale(1.050,0.985)" text-anchor="end" font-style="italic">Mq</text>
<text transform="translate(593.41,215.87) scale(1.003,1.03)" text-anchor="end">hf,</text>
</g>
<path d="M697.9 46.30H760.8" stroke="#ff00ff" stroke-width="3" stroke-dasharray="2.7 1.95 2.7 1.95 2.7 1.95 2.7 4.01" stroke-dashoffset="0" fill="none"/>
<path d="M697.9 69.36H760.8" stroke="#a52a2a" stroke-width="3" stroke-dasharray="1.7 2.1 7 2.2 1.4 1.66" stroke-dashoffset="0" fill="none"/>
<path d="M697.9 92.42H760.8" stroke="#808000" stroke-width="3" stroke-dasharray="1.35 1.48" stroke-dashoffset="0" fill="none"/>
<path d="M697.9 115.48H760.8" stroke="#bf80ff" stroke-width="3" stroke-dasharray="2.6 2.1 2.6 6.58" stroke-dashoffset="0" fill="none"/>
<path d="M697.9 138.54H760.8" stroke="#ff0000" stroke-width="3" stroke-dasharray="2.8 2.98" stroke-dashoffset="0" fill="none"/>
<path d="M697.9 161.60H760.8" stroke="#ffa500" stroke-width="3" stroke-dasharray="4.1 2.9 1.4 3.17" stroke-dashoffset="0" fill="none"/>
<path d="M697.9 184.66H760.8" stroke="#0000ff" stroke-width="3.4" stroke-dasharray="5.05 1.87" stroke-dashoffset="0" fill="none"/>
<path d="M697.9 207.72H760.8" stroke="#bebebe" stroke-width="3" stroke-dasharray="7.3 2.1 1.4 1.97" stroke-dashoffset="0" fill="none"/>
</svg>
</body></html>
